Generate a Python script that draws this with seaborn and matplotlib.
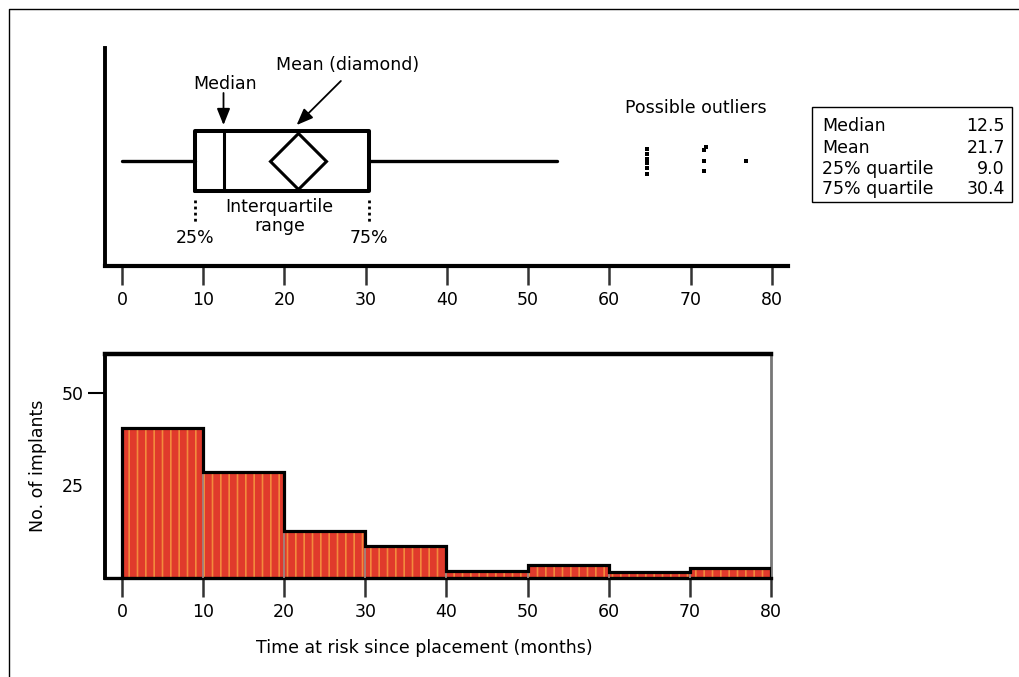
import matplotlib
matplotlib.use('Agg')
import matplotlib.pyplot as plt
import numpy as np
import pandas as pd
import seaborn as sns
from matplotlib.patches import Rectangle
from matplotlib.lines import Line2D

# summary of time at risk (months)
median = 12.5
mean = 21.7
q1 = 9.0
q3 = 30.4
whisker_low = 0.0
whisker_high = 53.6

# possible outliers (stacked points)
outlier_x = [64.6, 64.6, 64.6, 64.6, 64.6, 64.6, 71.6, 71.9, 71.6, 71.6, 76.8]
outlier_y = [0.4, 0.22, 0.08, -0.08, -0.24, -0.42, 0.38, 0.48, 0.0, -0.33, 0.0]

stat_labels = ['Median', 'Mean', '25% quartile', '75% quartile']
stat_values = [median, mean, q1, q3]

# histogram
bin_edges = [0, 10, 20, 30, 40, 50, 60, 70, 80]
counts = [40.4, 28.6, 12.7, 8.7, 1.8, 3.5, 1.5, 2.8]
x_ticks = [0, 10, 20, 30, 40, 50, 60, 70, 80]
y_ticks = [25, 50]

sns.set_theme(style='white')
plt.rcParams['font.family'] = ['DejaVu Sans']
plt.rcParams['font.size'] = 12.5
plt.rcParams['hatch.linewidth'] = 1.2
for k in ['text.color', 'axes.labelcolor', 'xtick.labelcolor', 'ytick.labelcolor']:
    plt.rcParams[k] = 'black'

W, H = 1019, 677
fig = plt.figure(figsize=(W / 100, H / 100), dpi=100)

# ---- top: box plot ----
ax1 = fig.add_axes([105 / W, 1 - 266 / H, (788 - 105) / W, (266 - 48) / H])
stats = [dict(med=median, q1=q1, q3=q3, whislo=whisker_low, whishi=whisker_high,
              mean=mean, fliers=[])]
ax1.bxp(stats, positions=[0], widths=2, orientation='horizontal',
        showcaps=False, showfliers=False, showmeans=False,
        boxprops=dict(color='black', lw=2.9),
        whiskerprops=dict(color='black', lw=2.4),
        medianprops=dict(color='black', lw=2.2))
ax1.plot([mean], [0], marker='D', ms=29, mfc='white', mec='black', mew=2.2, zorder=5)
sns.scatterplot(x=outlier_x, y=outlier_y, ax=ax1, marker='s', s=9,
                color='black', linewidth=0, zorder=5)

ax1.set_xlim(-2.09, 82.0)
ax1.set_ylim(-3.5, 3.77)
ax1.set_xticks(x_ticks)
ax1.set_xticklabels([str(t) for t in x_ticks])
ax1.set_yticks([])
for s in ['top', 'right']:
    ax1.spines[s].set_visible(False)
ax1.spines['left'].set_linewidth(2.8)
ax1.spines['bottom'].set_linewidth(3.0)
ax1.spines['left'].set_color('black')
ax1.spines['bottom'].set_color('black')
ax1.tick_params(axis='x', direction='out', length=14, width=1.8, color='#333333',
                pad=4, labelsize=12.5, bottom=True, labelcolor='black')

arrow = dict(arrowstyle='-|>,head_length=0.5,head_width=0.2', color='black',
             lw=1.3, mutation_scale=20, shrinkA=0, shrinkB=0)
ax1.text(median + 0.2, 2.57, 'Median', ha='center', va='center', color='black')
ax1.annotate('', xy=(median, 1.2), xytext=(median, 2.27), arrowprops=arrow)
ax1.text(27.8, 3.2, 'Mean (diamond)', ha='center', va='center', color='black')
ax1.annotate('', xy=(mean - 0.2, 1.2), xytext=(26.95, 2.67), arrowprops=arrow)
for q, lab in [(q1, '25%'), (q3, '75%')]:
    ax1.plot([q, q], [-1.3, -2.07], color='black', lw=2, ls=(0, (1, 1.2)))
    ax1.text(q, -2.55, lab, ha='center', va='center', color='black')
ax1.text(19.4, -1.84, 'Interquartile\nrange', ha='center', va='center',
         linespacing=1.1, color='black')
ax1.text(70.6, 1.77, 'Possible outliers', ha='center', va='center', color='black')

# ---- bottom: histogram ----
ax2 = fig.add_axes([105 / W, 1 - 578 / H, (771 - 105) / W, (578 - 354) / H])
edges = np.array(bin_edges, dtype=float)
cnt = np.array(counts)
df = pd.DataFrame({'months': (edges[:-1] + edges[1:]) / 2, 'n': cnt})
sns.histplot(data=df, x='months', weights='n', bins=bin_edges, ax=ax2,
             color='#e03a2c', edgecolor='#f28a3c', linewidth=0, hatch='||', alpha=1)
ax2.vlines(edges[1:-1], 0, np.maximum(cnt[:-1], cnt[1:]),
           color='#9a8a86', lw=1.2, zorder=3)
ax2.stairs(cnt, edges, baseline=0, color='black', lw=2.3, zorder=4)

ax2.set_xlim(-2.09, 80)
ax2.set_ylim(0, 60.5)
ax2.set_xticks(x_ticks)
ax2.set_xticklabels([str(t) for t in x_ticks])
# 50 has a tick mark, 25 is only labelled
ax2.set_yticks(y_ticks[1:])
ax2.set_yticklabels([str(t) for t in y_ticks[1:]])
ax2.set_yticks(y_ticks[:1], minor=True)
ax2.set_yticklabels([str(t) for t in y_ticks[:1]], minor=True)
ax2.spines['left'].set_linewidth(2.8)
ax2.spines['top'].set_linewidth(3.2)
ax2.spines['bottom'].set_linewidth(2.4)
ax2.spines['right'].set_linewidth(2.0)
for s in ['left', 'top', 'bottom']:
    ax2.spines[s].set_color('black')
ax2.spines['right'].set_color('#777777')
ax2.tick_params(axis='x', direction='out', length=14, width=1.8, color='#333333',
                pad=4, labelsize=12.5, bottom=True, labelcolor='black')
ax2.tick_params(axis='y', which='major', direction='out', length=12, width=1.5,
                color='black', pad=3, labelsize=12.5, left=True, labelcolor='black')
ax2.tick_params(axis='y', which='minor', direction='out', length=12, width=0,
                pad=3, labelsize=12.5, left=True, labelcolor='black')
ax2.set_xlabel('Time at risk since placement (months)', fontsize=12.5, color='black')
ax2.set_ylabel('No. of implants', fontsize=12.5, color='black')
ax2.xaxis.set_label_coords(0.479, -0.272)
ax2.yaxis.set_label_coords(-0.087, 0.5)

# ---- stats box ----
fig.add_artist(Rectangle((812 / W, 1 - 202 / H), 200 / W, 95 / H,
                         transform=fig.transFigure, fill=False, lw=1.0, color='black'))
row_y = [126, 148, 169, 189]
for lab, val, yy in zip(stat_labels, stat_values, row_y):
    fig.text(822 / W, 1 - yy / H, lab, ha='left', va='center', fontsize=12.5, color='black')
    fig.text(1005 / W, 1 - yy / H, f'{val:.1f}', ha='right', va='center',
             fontsize=12.5, color='black')

# outer frame
fig.add_artist(Line2D([9 / W, 9 / W, 1], [0, 1 - 9 / H, 1 - 9 / H],
                      transform=fig.transFigure, color='black', lw=1.0))

fig.savefig('out.png', dpi=100)
